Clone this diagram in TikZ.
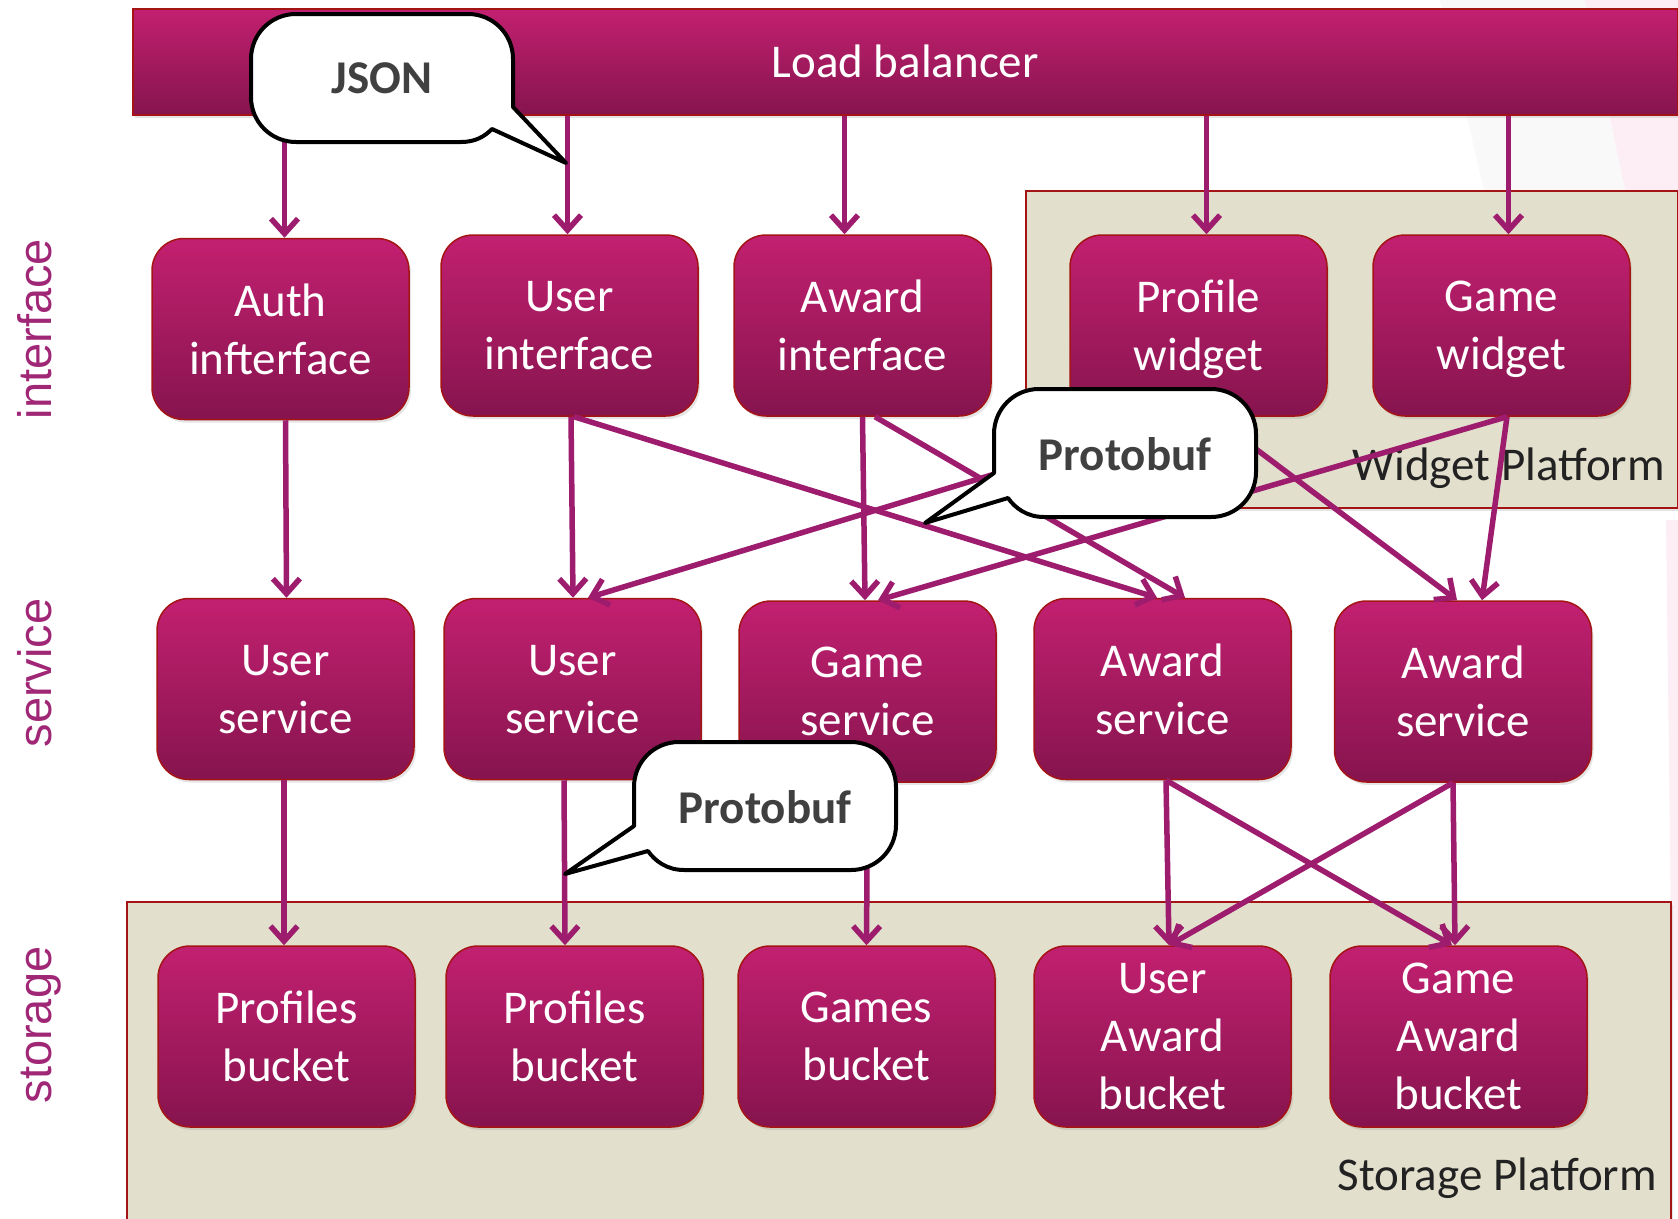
\documentclass[tikz,border=0pt]{standalone}
\usepackage{fontspec}
\setmainfont{Carlito}
\newfontfamily\sidelabelfont{Liberation Sans}
\usetikzlibrary{arrows.meta,shadows}

\definecolor{boxtop}{RGB}{194,32,112}
\definecolor{boxbot}{RGB}{134,20,78}
\definecolor{boxline}{RGB}{165,20,20}
\definecolor{wirecol}{RGB}{158,28,110}
\definecolor{platfill}{RGB}{226,223,204}
\definecolor{sidecol}{RGB}{160,38,118}
\definecolor{calltext}{RGB}{64,64,64}
\definecolor{platlabel}{RGB}{34,34,34}
\definecolor{hazepink}{RGB}{252,238,244}
\definecolor{hazegrey}{RGB}{249,249,249}

\newcommand\boxtextfont{\fontsize{47}{58}\selectfont}

\begin{document}
\begin{tikzpicture}[x=1pt,y=-1pt,
  softshadow/.style={drop shadow={shadow xshift=2pt,shadow yshift=-3pt,opacity=0.2}},
  box/.style={draw=boxline,line width=1.5pt,rounded corners=32pt,
    top color=boxtop,bottom color=boxbot,minimum width=257pt,minimum height=181pt,
    inner sep=0pt,text=white,align=center,font=\boxtextfont,text depth=0pt,softshadow},
  bar/.style={draw=boxline,line width=1.5pt,top color=boxtop,bottom color=boxbot,
    inner sep=0pt,text=white,font=\boxtextfont,softshadow},
  platform/.style={draw=boxline,line width=1.5pt,fill=platfill,inner sep=0pt,softshadow},
  platlabel/.style={text=platlabel,font=\boxtextfont,inner sep=0pt},
  sidelabel/.style={text=sidecol,font=\sidelabelfont\fontsize{47}{56}\selectfont,inner sep=0pt,rotate=90,anchor=base},
  wire/.style={draw=wirecol,line width=5.5pt,-{Straight Barb[length=15pt,width=27pt]}},
  callout/.style={draw=black,fill=white,line width=4pt,line join=round},
  calltext/.style={text=calltext,font=\boxtextfont\bfseries,inner sep=0pt}]

\useasboundingbox (0,0) rectangle (1678,1218);
\fill[white] (0,0) rectangle (1678,1218);

% faint backdrop streaks on the right
\fill[hazegrey] (1440,0) -- (1585,0) -- (1640,260) -- (1500,260) -- cycle;
\fill[hazepink] (1585,0) -- (1678,0) -- (1678,260) -- (1640,260) -- cycle;
\fill[hazepink] (1666,520) -- (1678,520) -- (1678,1000) -- (1672,1000) -- cycle;

% platforms
\node[platform,minimum width=652pt,minimum height=317pt,anchor=north west] (widgetplat) at (1025,190) {};
\node[platform,minimum width=1544pt,minimum height=330pt,anchor=north west] (storeplat) at (126,901) {};
\node[platlabel,anchor=base east] (widgetlabel) at (1665,480) {Widget Platform};
\node[platlabel,anchor=base east] (storelabel) at (1657,1190) {Storage Platform};

% load balancer
\node[bar,minimum width=1545pt,minimum height=106pt,anchor=north west] (lb) at (132,8) {Load balancer};

% interface row
\node[box] (auth) at (280.5,329) {Auth\\infterface};
\node[box] (ui)   at (569.5,325.5) {User\\interface};
\node[box] (ai)   at (862.5,325.5) {Award\\interface};
\node[box] (pw)   at (1198.5,325.5) {Profile\\widget};
\node[box] (gw)   at (1501.5,325.5) {Game\\widget};

% service row
\node[box] (us)   at (285.5,689) {User\\service};
\node[box] (us2)  at (572.5,689) {User\\service};
\node[box] (gs)   at (867.5,691.5) {Game\\service};
\node[box] (as)   at (1162.5,689) {Award\\service};
\node[box] (as2)  at (1463,691.5) {Award\\service};

% storage row
\node[box] (pb)   at (286.5,1036.5) {Profiles\\bucket};
\node[box] (pb2)  at (574.5,1036.5) {Profiles\\bucket};
\node[box] (gb)   at (866.5,1036.5) {Games\\bucket};
\node[box] (uab)  at (1162.5,1036.5) {User\\Award\\bucket};
\node[box] (gab)  at (1458.5,1036.5) {Game\\Award\\bucket};

% side labels
\node[sidelabel] (lblif) at (51,329) {interface};
\node[sidelabel] (lblsv) at (51,673) {service};
\node[sidelabel] (lblst) at (51,1025) {storage};

% load balancer to interfaces
\draw[wire] ([xshift=4pt]lb.south -| auth.north) -- ([xshift=4pt]auth.north);
\draw[wire] ([xshift=-2pt]lb.south -| ui.north) -- ([xshift=-2pt]ui.north);
\draw[wire] ([xshift=-18pt]lb.south -| ai.north) -- ([xshift=-18pt]ai.north);
\draw[wire] ([xshift=8pt]lb.south -| pw.north) -- ([xshift=8pt]pw.north);
\draw[wire] ([xshift=7pt]lb.south -| gw.north) -- ([xshift=7pt]gw.north);

% interfaces to services
\draw[wire] ([xshift=5pt]auth.south) -- ([xshift=1pt]us.north);
\draw[wire] ([xshift=1.5pt]ui.south) -- ([xshift=0.5pt]us2.north);
\draw[wire] ([xshift=4.5pt]ui.south) -- ([xshift=-5.5pt]as.north);
\draw[wire] (ai.south) -- ([xshift=-2.5pt]gs.north);
\draw[wire] ([xshift=12.5pt]ai.south) -- ([xshift=22.5pt]as.north);
\draw[wire] ([xshift=-15.5pt]pw.south) -- ([xshift=15.5pt]us2.north);
\draw[wire] ([xshift=14.5pt]pw.south) -- ([xshift=-6pt]as2.north);
\draw[wire] ([xshift=5.5pt]gw.south) -- ([xshift=10.5pt]gs.north);
\draw[wire] ([xshift=5.5pt]gw.south) -- ([xshift=19pt]as2.north);

% services to storage
\draw[wire] ([xshift=-1.5pt]us.south) -- ([xshift=-2.5pt]pb.north);
\draw[wire] ([xshift=-8.5pt]us2.south) -- ([xshift=-9.5pt]pb2.north);
\draw[wire] (gs.south) -- (gb.north);
\draw[wire] ([xshift=3.5pt]as.south) -- ([xshift=6.5pt]uab.north);
\draw[wire] ([xshift=3.5pt]as.south) -- ([xshift=-6.5pt]gab.north);
\draw[wire] ([xshift=-10pt]as2.south) -- ([xshift=6.5pt]uab.north);
\draw[wire] ([xshift=-10pt]as2.south) -- ([xshift=-3.5pt]gab.north);

% speech bubbles
\begin{scope}[shift={(251,14)}]
  \draw[callout] (45,0) -- (217,0) .. controls (242,0) and (262,20) .. (262,45)
    -- (262,93) -- (315,149) -- (241,115)
    .. controls (234,122) and (225,128) .. (210,128) -- (45,128)
    .. controls (20,128) and (0,108) .. (0,83) -- (0,45)
    .. controls (0,20) and (20,0) .. (45,0) -- cycle;
  \node[calltext] (json) at (131,64) {JSON};
\end{scope}

\begin{scope}[shift={(994,389)}]
  \draw[callout] (45,0) -- (217,0) .. controls (242,0) and (262,20) .. (262,45)
    -- (262,83) .. controls (262,108) and (242,128) .. (217,128) -- (50,128)
    .. controls (33,128) and (21,119) .. (14,109) -- (-69,134) -- (0,84)
    -- (0,45) .. controls (0,20) and (20,0) .. (45,0) -- cycle;
  \node[calltext] (protoa) at (131,65) {Protobuf};
\end{scope}

\begin{scope}[shift={(634,742)}]
  \draw[callout] (45,0) -- (217,0) .. controls (242,0) and (262,20) .. (262,45)
    -- (262,83) .. controls (262,108) and (242,128) .. (217,128) -- (50,128)
    .. controls (33,128) and (21,119) .. (14,109) -- (-69,132) -- (0,84)
    -- (0,45) .. controls (0,20) and (20,0) .. (45,0) -- cycle;
  \node[calltext] (protob) at (131,65) {Protobuf};
\end{scope}

\end{tikzpicture}
\end{document}
